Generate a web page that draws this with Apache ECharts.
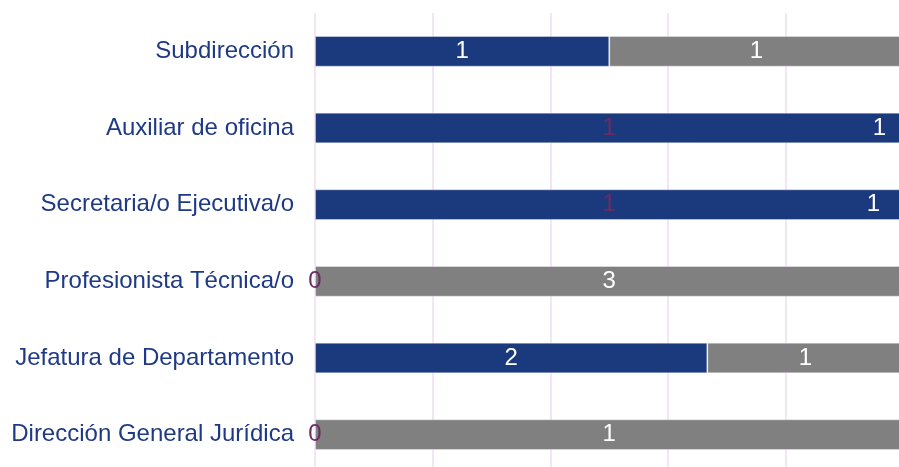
<!DOCTYPE html>
<html>
<head>
<meta charset="utf-8">
<script src="https://cdn.jsdelivr.net/npm/echarts@6/dist/echarts.min.js"></script>
<style>
html,body{margin:0;padding:0;background:#fff;}
#c{width:899px;height:467px;}
</style>
</head>
<body>
<div id="c"></div>
<script>
// Data (top to bottom)
const categories = ['Subdirección', 'Auxiliar de oficina', 'Secretaria/o Ejecutiva/o', 'Profesionista Técnica/o', 'Jefatura de Departamento', 'Dirección General Jurídica'];
const blueValues = [1, 1, 1, 0, 2, 0];
const grayValues = [1, 0, 0, 3, 1, 1];
const blueLabels = ['1', '1', '1', '0', '2', '0'];
const grayLabels = ['1', '1', '1', '3', '1', '1'];
const xTicks = [0, 20, 40, 60, 80, 100];

// Styles
const BLUE = '#1B3A7D';
const GRAY = '#808080';
const PURPLE = '#6B2C62';
const blueLabelColors = ['#ffffff', PURPLE, PURPLE, PURPLE, '#ffffff', PURPLE];
const grayLabelDist = [0, 17, 23, 0, 0, 0];

const totals = blueValues.map((v, i) => v + grayValues[i]);
const bluePct = blueValues.map((v, i) => totals[i] ? v / totals[i] * 100 : 0);
const grayPct = grayValues.map((v, i) => totals[i] ? v / totals[i] * 100 : 0);

const labelFont = { fontFamily: '"Liberation Sans", Arial, sans-serif', fontSize: 24 };

const chart = echarts.init(document.getElementById('c'), null, { renderer: 'canvas' });
chart.setOption({
  animation: false,
  backgroundColor: '#ffffff',
  grid: { left: 315, right: -4.5, top: 13, bottom: -6, containLabel: false, outerBoundsMode: 'none' },
  xAxis: {
    type: 'value', min: xTicks[0], max: xTicks[xTicks.length - 1], interval: 20,
    axisLabel: { show: false }, axisTick: { show: false }, axisLine: { show: false },
    splitLine: { show: true, lineStyle: { color: '#EEDCF0', width: 1.5 } }
  },
  yAxis: {
    type: 'category', data: categories, inverse: true,
    axisLine: { show: false }, axisTick: { show: false },
    axisLabel: Object.assign({ color: '#1F3A84', margin: 21 }, labelFont)
  },
  series: [
    {
      type: 'bar', stack: 'a', barWidth: '40%',
      itemStyle: { color: BLUE, borderColor: 'rgba(255,255,255,0.35)', borderWidth: 1 },
      data: bluePct.map((v, i) => ({
        value: v,
        label: { show: true, position: 'inside', color: blueLabelColors[i], formatter: () => blueLabels[i] }
      })),
      label: Object.assign({ show: true }, labelFont)
    },
    {
      type: 'bar', stack: 'a', barWidth: '40%',
      itemStyle: { color: GRAY, borderColor: 'rgba(255,255,255,0.35)', borderWidth: 1 },
      data: grayPct.map((v, i) => ({
        value: v,
        label: grayLabelDist[i]
          ? { show: true, position: 'left', distance: grayLabelDist[i], color: '#ffffff', formatter: () => grayLabels[i] }
          : { show: true, position: 'inside', color: '#ffffff', formatter: () => grayLabels[i] }
      })),
      label: Object.assign({ show: true }, labelFont)
    }
  ]
});
</script>
</body>
</html>
